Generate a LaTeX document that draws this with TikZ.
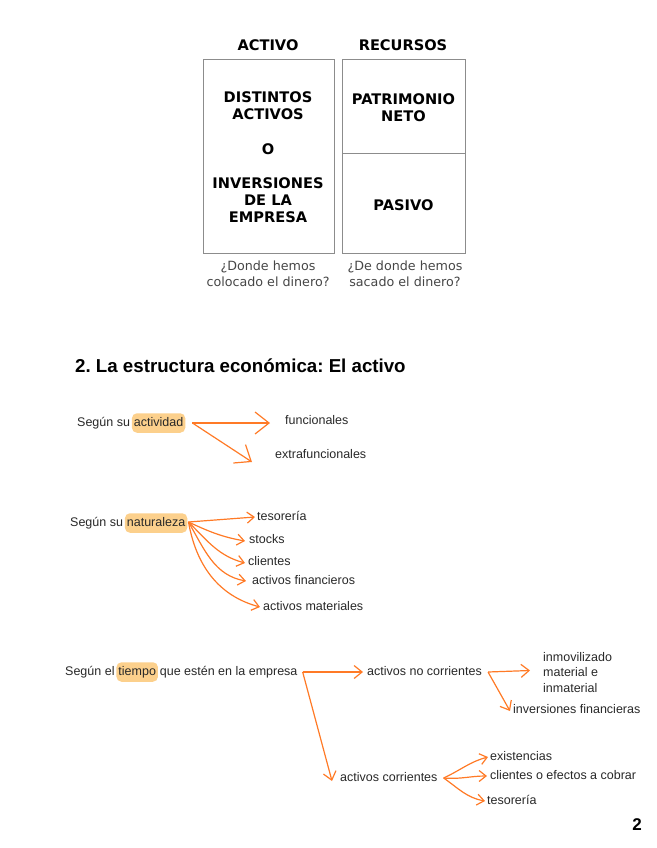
\documentclass[tikz,border=0pt]{standalone}
\usepackage{fontspec}
\setmainfont{Liberation Sans}
\newfontfamily\verd{DejaVu Sans}
\usetikzlibrary{arrows.meta}
\definecolor{org}{RGB}{255,122,38}
\definecolor{hlc}{RGB}{252,208,140}
\definecolor{txtc}{RGB}{40,40,40}
\definecolor{capc}{RGB}{70,70,70}
\definecolor{boxc}{RGB}{140,140,140}
\frenchspacing
\begin{document}
\begin{tikzpicture}[x=1pt,y=-1pt,
 hdr/.style={font=\verd\bfseries\fontsize{14.6}{16.7}\selectfont, align=center, inner sep=0},
 captxt/.style={font=\verd\fontsize{12.7}{15.5}\selectfont, text=capc, align=center, inner sep=0},
 boxl/.style={draw=boxc, line width=0.8pt, inner sep=0},
 txt/.style={font=\fontsize{12.5}{15.5}\selectfont, text=txtc, inner sep=0, text height=9pt, text depth=2.5pt, anchor=west},
 mtxt/.style={font=\fontsize{12.5}{15.5}\selectfont, text=txtc, inner sep=0, anchor=west, align=left},
 hl/.style={txt, fill=hlc, rounded corners=5pt, inner xsep=2pt, inner ysep=4pt},
 arr/.style={draw=org, line width=1.2pt, -{Straight Barb[length=7pt,width=11pt]}},
 marr/.style={draw=org, line width=1.2pt, -{Straight Barb[length=8pt,width=13pt]}},
 bigarr/.style={draw=org, line width=1.2pt, -{Straight Barb[length=14pt,width=22pt]}}
]
\useasboundingbox (0,0) rectangle (656,848);

% ---- top balance ----
\node[hdr] (hact) at (268,45) {ACTIVO};
\node[hdr] (hrec) at (403,45) {RECURSOS};
\node[boxl, minimum width=131pt, minimum height=194pt] (actbox) at (269,156) {};
\node[boxl, minimum width=123pt, minimum height=94pt] (pnbox) at (403.5,106) {};
\node[boxl, minimum width=123pt, minimum height=100pt] (pasbox) at (403.5,203) {};
\node[hdr] (dist) at (268,106) {DISTINTOS\\ACTIVOS};
\node[hdr] (o) at (268,149) {O};
\node[hdr] (inv) at (268,200) {INVERSIONES\\DE LA\\EMPRESA};
\node[hdr] (pn) at (403.5,108) {PATRIMONIO\\NETO};
\node[hdr] (pas) at (403.5,205) {PASIVO};
\node[captxt] (c1) at (268,274) {¿Donde hemos\\colocado el dinero?};
\node[captxt] (c2) at (405,274) {¿De donde hemos\\sacado el dinero?};

% ---- title ----
\node[font=\bfseries\fontsize{18.7}{20}\selectfont, anchor=west, inner sep=0] (title) at (75,366) {2. La estructura económica: El activo};

% ---- group 1 ----
\node[txt] (s1a) at (77,423) {Según su};
\node[hl] (s1b) at ([xshift=1.5pt]s1a.east) {actividad};
\node[txt] (fun) at (285,421) {funcionales};
\node[txt] (ext) at (275,455) {extrafuncionales};
\draw[bigarr] ([xshift=7pt]s1b.east) -- ([xshift=-15pt,yshift=-2pt]fun.west);
\draw[bigarr] ([xshift=7pt]s1b.east) -- ([xshift=-23pt,yshift=-7pt]ext.west);

% ---- group 2 ----
\node[txt] (s2a) at (70,523) {Según su};
\node[hl] (s2b) at ([xshift=1.5pt]s2a.east) {naturaleza};
\node[txt] (tes1) at (257,517) {tesorería};
\node[txt] (sto) at (249,540) {stocks};
\node[txt] (cli1) at (248,562) {clientes};
\node[txt] (afi) at (252,581) {activos financieros};
\node[txt] (ama) at (263,607) {activos materiales};
\draw[arr] ([xshift=1pt,yshift=1pt]s2b.east) -- ([xshift=-2pt]tes1.west);
\draw[arr] ([xshift=1pt,yshift=1pt]s2b.east) to[out=-25,in=170] ([xshift=-4pt,yshift=-1pt]sto.west);
\draw[arr] ([xshift=1pt,yshift=1pt]s2b.east) to[out=-45,in=165] ([xshift=-3pt,yshift=-1pt]cli1.west);
\draw[arr] ([xshift=1pt,yshift=1pt]s2b.east) to[out=-60,in=170] ([xshift=-6pt]afi.west);
\draw[arr] ([xshift=1pt,yshift=1pt]s2b.east) to[out=-80,in=165] ([xshift=-3pt]ama.west);

% ---- group 3 ----
\node[txt] (s3a) at (65,672) {Según el};
\node[hl] (s3b) at ([xshift=1.5pt]s3a.east) {tiempo};
\node[txt] (s3c) at ([xshift=1.5pt]s3b.east) {que estén en la empresa};
\node[txt] (anc) at (367,672) {activos no corrientes};
\node[txt] (ac) at (340,778) {activos corrientes};
\node[mtxt] (inm) at (543,672.5) {inmovilizado\\material e\\inmaterial};
\node[txt] (invf) at (513,710) {inversiones financieras};
\node[txt] (exi) at (490,757) {existencias};
\node[txt] (cli2) at (490,776) {clientes o efectos a cobrar};
\node[txt] (tes2) at (487,801) {tesorería};
\draw[marr] ([xshift=5pt]s3c.east) -- ([xshift=-4pt]anc.west);
\draw[marr] ([xshift=5pt]s3c.east) -- ([xshift=-8pt,yshift=-3pt]ac.west);
\draw[marr] ([xshift=6pt]anc.east) -- ([xshift=-13pt,yshift=2pt]inm.west);
\draw[marr] ([xshift=6pt]anc.east) -- ([xshift=-3pt,yshift=-1pt]invf.west);
\draw[arr] ([xshift=6pt]ac.east) to[out=25,in=195] ([xshift=-2pt]exi.west);
\draw[arr] ([xshift=6pt]ac.east) to[out=-5,in=180] ([xshift=-3pt]cli2.west);
\draw[arr] ([xshift=6pt]ac.east) to[out=-35,in=170] ([xshift=-2pt]tes2.west);

% ---- page number ----
\node[font=\bfseries\fontsize{17}{17}\selectfont, inner sep=0] (pg) at (637,825) {2};
\end{tikzpicture}
\end{document}
